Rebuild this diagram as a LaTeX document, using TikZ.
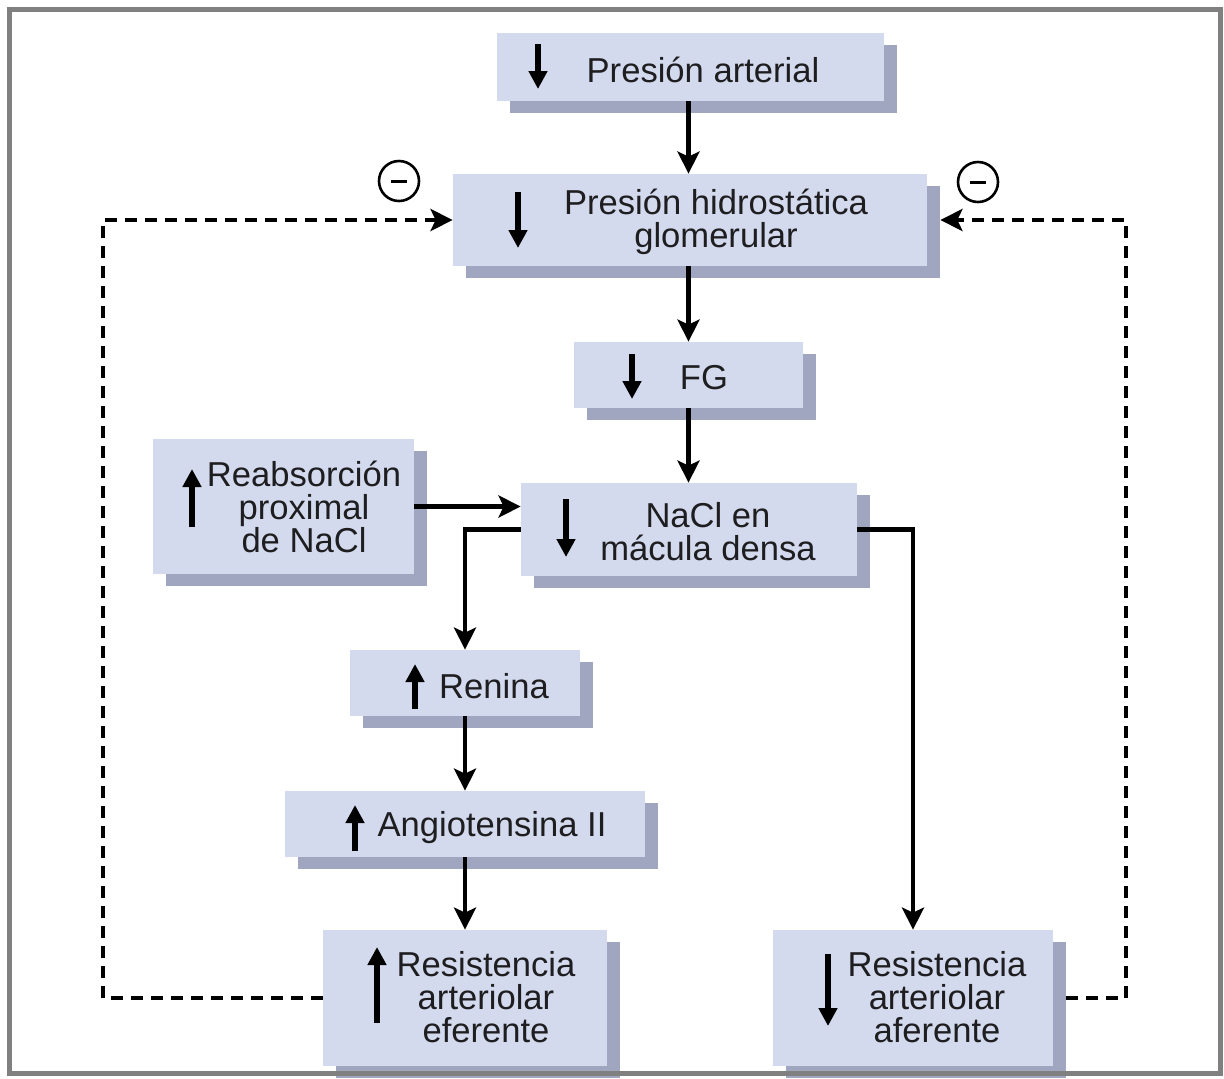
\documentclass[tikz,border=0pt]{standalone}
\usepackage{fontspec}
\setmainfont{Liberation Sans}
\usetikzlibrary{fit,arrows.meta}
\definecolor{boxfill}{RGB}{212,218,238}
\definecolor{boxshade}{RGB}{160,165,192}
\definecolor{inktext}{RGB}{30,30,32}
\definecolor{framegray}{RGB}{128,128,128}
\tikzset{
  frontbox/.style={draw=none, fill=boxfill, inner sep=0pt, rectangle},
  shadowbox/.style={draw=none, fill=boxshade, inner sep=0pt, rectangle},
  boxtext/.style={text=inktext, align=center, inner sep=0pt,
    font=\fontsize{17.3}{16.6}\selectfont},
  flow/.style={line width=2.4pt, -{Stealth[length=11pt, width=11pt, inset=2.5pt]}},
  feedback/.style={line width=2.4pt, dash pattern=on 6pt off 4pt,
    -{Stealth[length=11pt, width=11pt, inset=2.5pt]}},
  signarrow/.style={line width=2.6pt, -{Triangle[length=9pt, width=9pt]}},
  minuscircle/.style={circle, draw, line width=1.3pt, minimum size=20pt, inner sep=0pt},
  minusbar/.style={line width=1.5pt},
}
% box with drop shadow: name, left, top, right, bottom (pixel-style units)
\newcommand\flowbox[5]{%
  \node[shadowbox, fit={(#2+13,#3+12) (#4+13,#5+12)}] (s#1) {};
  \node[frontbox, fit={(#2,#3) (#4,#5)}] (#1) {};
}
\begin{document}
\begin{tikzpicture}[x=0.5pt, y=-0.5pt]
\useasboundingbox (0,0) rectangle (1224,1078);

% boxes
\flowbox{pa}{497}{33}{884}{101}
\flowbox{phg}{453}{174}{927}{266}
\flowbox{fg}{574}{342}{803}{408}
\flowbox{nacl}{521}{483}{857}{576}
\flowbox{reab}{153}{439}{414}{574}
\flowbox{ren}{350}{650}{580}{716}
\flowbox{ang}{285}{791}{645}{857}
\flowbox{ref}{323}{930}{607}{1066}
\flowbox{raf}{773}{930}{1053}{1066}

% texts
\node[boxtext] (tpa) at (703,70) {Presión arterial};
\node[boxtext] (tphg) at (716,222) {Presión hidrostática\\glomerular};
\node[boxtext] (tfg) at (704,378) {FG};
\node[boxtext] (tnacl) at (708,532) {NaCl en\\mácula densa};
\node[boxtext] (treab) at (304,507) {Reabsorción\\proximal\\de NaCl};
\node[boxtext] (tren) at (494,686) {Renina};
\node[boxtext] (tang) at (492,828) {Angiotensina II};
\node[boxtext] (tref) at (486,997) {Resistencia\\arteriolar\\eferente};
\node[boxtext] (traf) at (937,997) {Resistencia\\arteriolar\\aferente};

% up / down markers inside the boxes
\draw[signarrow] (538,44) -- (538,89);
\draw[signarrow] (518,192) -- (518,248);
\draw[signarrow] (632,354) -- (632,399);
\draw[signarrow] (566,499) -- (566,557);
\draw[signarrow] (192,527) -- (192,469);
\draw[signarrow] (415,709) -- (415,664);
\draw[signarrow] (355,851) -- (355,805);
\draw[signarrow] (377,1023) -- (377,947);
\draw[signarrow] (828,954) -- (828,1026);

% main flow
\draw[flow] (pa.south -| fg.north) -- (phg.north -| fg.north);
\draw[flow] (phg.south -| fg.north) -- (fg.north);
\draw[flow] (fg.south) -- (nacl.north -| fg.south);
\draw[flow] (reab.east) -- (reab.east -| nacl.west);
\draw[flow] (nacl.west) -| (ren.north);
\draw[flow] (ren.south) -- (ang.north);
\draw[flow] (ang.south) -- (ref.north);
\draw[flow] (nacl.east) -| (raf.north);

% feedback loops
\coordinate (lb) at (103,998);
\coordinate (lt) at (103,220);
\coordinate (rb) at (1126,998);
\coordinate (rt) at (1126,220);
\draw[feedback] (ref.west |- lb) -- (lb) -- (lt) -- (phg.west |- lt);
\draw[feedback] (sraf.east |- rb) -- (rb) -- (rt) -- (sphg.east |- rt);

% inhibition marks
\node[minuscircle] (mleft) at (399,181) {};
\node[minuscircle] (mright) at (978,182) {};
\draw[minusbar] ([xshift=-4pt]mleft.center) -- ([xshift=4pt]mleft.center);
\draw[minusbar] ([xshift=-4pt]mright.center) -- ([xshift=4pt]mright.center);

% outer frame
\draw[framegray, line width=2.5pt] (9,9) rectangle (1220,1073);
\end{tikzpicture}
\end{document}
